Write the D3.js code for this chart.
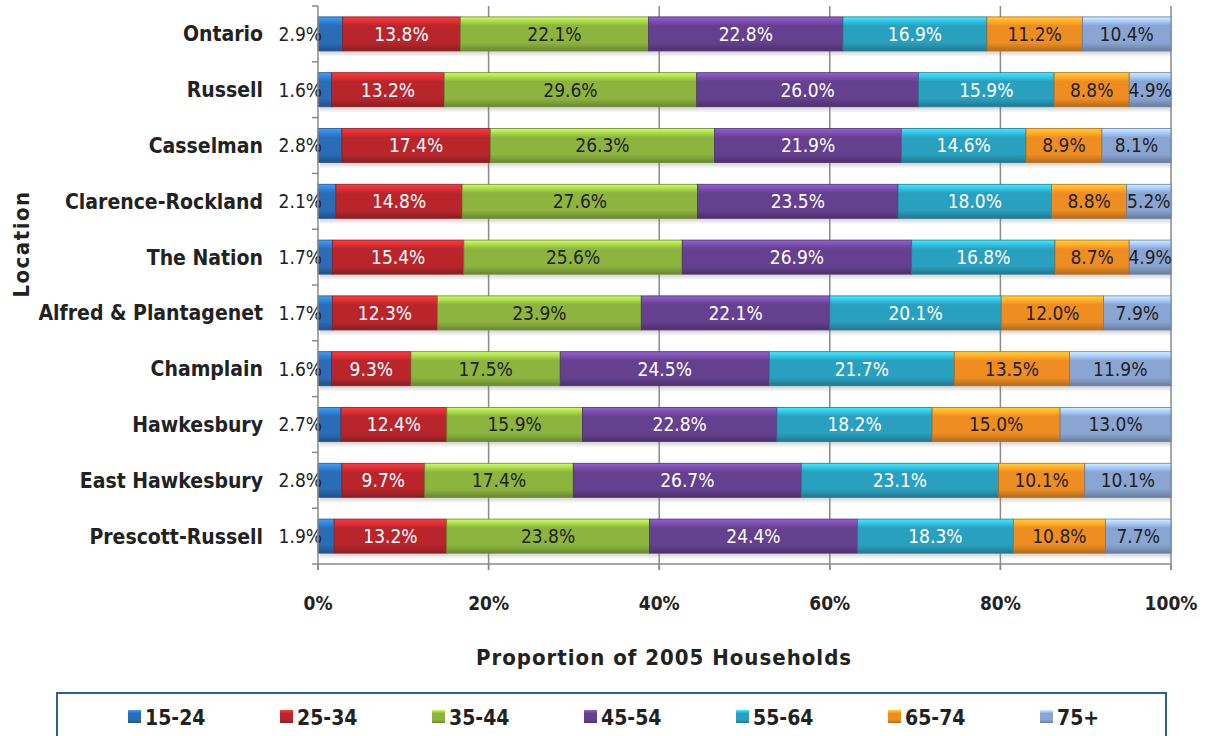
<!DOCTYPE html>
<html>
<head>
<meta charset="utf-8">
<script src="https://cdn.jsdelivr.net/npm/d3@7"></script>
<style>
  html, body { margin: 0; padding: 0; background: #fff; }
  svg { display: block; font-family: "DejaVu Sans Condensed", "DejaVu Sans", sans-serif; font-stretch: condensed; }
</style>
</head>
<body>
<svg id="chart" width="1210" height="736"></svg>
<script>
const locations = ["Ontario", "Russell", "Casselman", "Clarence-Rockland", "The Nation",
  "Alfred & Plantagenet", "Champlain", "Hawkesbury", "East Hawkesbury", "Prescott-Russell"];
const ageGroups = ["15-24", "25-34", "35-44", "45-54", "55-64", "65-74", "75+"];
const v15_24 = [2.9, 1.6, 2.8, 2.1, 1.7, 1.7, 1.6, 2.7, 2.8, 1.9];
const v25_34 = [13.8, 13.2, 17.4, 14.8, 15.4, 12.3, 9.3, 12.4, 9.7, 13.2];
const v35_44 = [22.1, 29.6, 26.3, 27.6, 25.6, 23.9, 17.5, 15.9, 17.4, 23.8];
const v45_54 = [22.8, 26.0, 21.9, 23.5, 26.9, 22.1, 24.5, 22.8, 26.7, 24.4];
const v55_64 = [16.9, 15.9, 14.6, 18.0, 16.8, 20.1, 21.7, 18.2, 23.1, 18.3];
const v65_74 = [11.2, 8.8, 8.9, 8.8, 8.7, 12.0, 13.5, 15.0, 10.1, 10.8];
const v75p   = [10.4, 4.9, 8.1, 5.2, 4.9, 7.9, 11.9, 13.0, 10.1, 7.7];
const xTicks = [0, 0.2, 0.4, 0.6, 0.8, 1.0];
const xTitle = "Proportion of 2005 Households";
const yTitle = "Location";

const seriesValues = [v15_24, v25_34, v35_44, v45_54, v55_64, v65_74, v75p];
const colors = ["#2a6cb5", "#b8262b", "#8cb43e", "#65408f", "#2aa0bf", "#ee8e22", "#8aa5d2"];
const labelColors = ["#222", "#fff", "#222", "#fff", "#fff", "#222", "#222"];

const table = locations.map((loc, i) => {
  const row = { loc };
  ageGroups.forEach((g, j) => row[g] = seriesValues[j][i]);
  return row;
});

const svg = d3.select("#chart");
const defs = svg.append("defs");
colors.forEach((c, j) => {
  const base = d3.color(c);
  const g = defs.append("linearGradient").attr("id", "grad" + j)
    .attr("x1", 0).attr("y1", 0).attr("x2", 0).attr("y2", 1);
  g.append("stop").attr("offset", "0%").attr("stop-color", base.brighter(1.1));
  g.append("stop").attr("offset", "16%").attr("stop-color", base.brighter(0.45));
  g.append("stop").attr("offset", "26%").attr("stop-color", base);
  g.append("stop").attr("offset", "76%").attr("stop-color", base);
  g.append("stop").attr("offset", "88%").attr("stop-color", base.darker(0.35));
  g.append("stop").attr("offset", "100%").attr("stop-color", base.darker(0.8));
});
const sh = defs.append("linearGradient").attr("id", "shadow")
  .attr("x1", 0).attr("y1", 0).attr("x2", 0).attr("y2", 1);
sh.append("stop").attr("offset", "0%").attr("stop-color", "#cfcfcf");
sh.append("stop").attr("offset", "100%").attr("stop-color", "#ffffff");

const x = d3.scaleLinear().domain([0, 1]).range([318, 1171]);
const y = d3.scaleBand().domain(locations).range([6, 564]).paddingInner(0.39).paddingOuter(0.195);

const stack = d3.stack().keys(ageGroups).offset(d3.stackOffsetExpand);
const series = stack(table);

// bar shadows
svg.append("g").selectAll("rect").data(locations).join("rect")
  .attr("x", x(0) + 2).attr("y", d => y(d) + y.bandwidth())
  .attr("width", x(1) - x(0) - 2).attr("height", 6)
  .attr("fill", "url(#shadow)");

// gridlines
const axisColor = "#8a8a8a";
svg.append("g").selectAll("line").data(xTicks.slice(1)).join("line")
  .attr("x1", d => x(d)).attr("x2", d => x(d))
  .attr("y1", 6).attr("y2", 570)
  .attr("stroke", axisColor).attr("stroke-width", 1.5);

// bars
const gBars = svg.append("g");
series.forEach((s, j) => {
  gBars.append("g").selectAll("rect").data(s).join("rect")
    .attr("x", d => x(d[0]))
    .attr("y", d => y(d.data.loc))
    .attr("width", d => x(d[1]) - x(d[0]))
    .attr("height", y.bandwidth())
    .attr("fill", "url(#grad" + j + ")")
    .attr("stroke", d3.color(colors[j]).darker(0.8))
    .attr("stroke-width", 0.8);
});

// value labels
const gLab = svg.append("g").attr("font-size", 19);
series.forEach((s, j) => {
  gLab.append("g").selectAll("text").data(s).join("text")
    .attr("x", d => j === 0 ? x(0) + 4 : (x(d[0]) + x(d[1])) / 2)
    .attr("y", d => y(d.data.loc) + y.bandwidth() / 2)
    .attr("dy", "0.36em")
    .attr("text-anchor", j === 0 ? "end" : "middle")
    .attr("fill", labelColors[j])
    .text(d => d.data[ageGroups[j]].toFixed(1) + "%");
});

// y axis
const gy = svg.append("g");
gy.append("line").attr("x1", x(0)).attr("x2", x(0)).attr("y1", 6).attr("y2", 570)
  .attr("stroke", axisColor).attr("stroke-width", 1.5);
const bounds = locations.map(l => y(l) - y.step() * y.paddingInner() / 2).concat([564]);
gy.selectAll("line.tk").data(bounds).join("line").attr("class", "tk")
  .attr("x1", x(0) - 6).attr("x2", x(0)).attr("y1", d => d).attr("y2", d => d)
  .attr("stroke", axisColor).attr("stroke-width", 1.5);
gy.selectAll("text").data(locations).join("text")
  .attr("x", 263).attr("y", d => y(d) + y.bandwidth() / 2).attr("dy", "0.36em")
  .attr("text-anchor", "end").attr("font-weight", "bold").attr("font-size", 21)
  .attr("fill", "#222").text(d => d);

// x axis
const gx = svg.append("g");
gx.append("line").attr("x1", x(0)).attr("x2", x(1)).attr("y1", 564).attr("y2", 564)
  .attr("stroke", axisColor).attr("stroke-width", 1.5);
gx.selectAll("line.tk").data(xTicks).join("line").attr("class", "tk")
  .attr("x1", d => x(d)).attr("x2", d => x(d)).attr("y1", 564).attr("y2", 570)
  .attr("stroke", axisColor).attr("stroke-width", 1.5);
gx.selectAll("text").data(xTicks).join("text")
  .attr("x", d => x(d)).attr("y", 603).attr("dy", "0.36em")
  .attr("text-anchor", "middle").attr("font-weight", "bold").attr("font-size", 19)
  .attr("fill", "#222").text(d => d3.format(".0%")(d));

svg.append("text").attr("x", 664).attr("y", 657).attr("dy", "0.36em")
  .attr("text-anchor", "middle").attr("font-weight", "bold").attr("font-size", 22)
  .attr("letter-spacing", 1).attr("fill", "#222").text(xTitle);

svg.append("text").attr("transform", "translate(21,244) rotate(-90)").attr("dy", "0.36em")
  .attr("text-anchor", "middle").attr("font-weight", "bold").attr("font-size", 22)
  .attr("letter-spacing", 1.5).attr("fill", "#222").text(yTitle);

// legend
svg.append("rect").attr("x", 57).attr("y", 693).attr("width", 1109).attr("height", 60)
  .attr("fill", "#fff").attr("stroke", "#2d5f9a").attr("stroke-width", 2);
const lg = svg.append("g").selectAll("g").data(ageGroups).join("g")
  .attr("transform", (d, i) => `translate(${128 + i * 152},717)`);
lg.append("rect").attr("x", 0).attr("y", -7).attr("width", 13).attr("height", 13)
  .attr("fill", (d, i) => "url(#grad" + i + ")");
lg.append("text").attr("x", 17).attr("dy", "0.36em").attr("font-weight", "bold")
  .attr("font-size", 21).attr("fill", "#222").text(d => d);
</script>
</body>
</html>
